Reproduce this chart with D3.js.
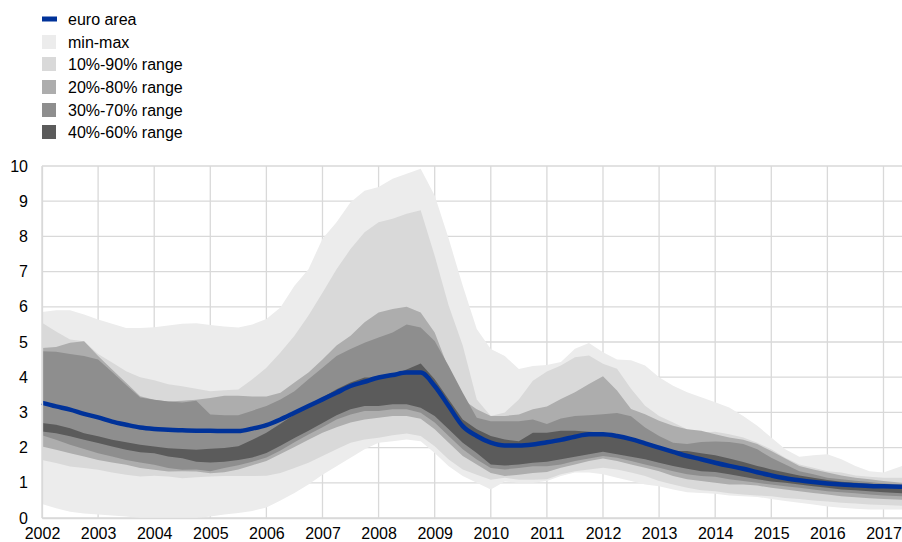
<!DOCTYPE html>
<html>
<head>
<meta charset="utf-8">
<script src="https://cdn.jsdelivr.net/npm/d3@7"></script>
<style>
body { margin: 0; background: #fff; }
svg { display: block; font-family: "Liberation Sans", Arial, sans-serif; }
</style>
</head>
<body>
<script>
// quarterly observations, last one is April 2017
var dates = [2002, 2002.25, 2002.5, 2002.75, 2003, 2003.25, 2003.5, 2003.75,
	2004, 2004.25, 2004.5, 2004.75, 2005, 2005.25, 2005.5, 2005.75,
	2006, 2006.25, 2006.5, 2006.75, 2007, 2007.25, 2007.5, 2007.75,
	2008, 2008.25, 2008.5, 2008.75, 2009, 2009.25, 2009.5, 2009.75,
	2010, 2010.25, 2010.5, 2010.75, 2011, 2011.25, 2011.5, 2011.75,
	2012, 2012.25, 2012.5, 2012.75, 2013, 2013.25, 2013.5, 2013.75,
	2014, 2014.25, 2014.5, 2014.75, 2015, 2015.25, 2015.5, 2015.75,
	2016, 2016.25, 2016.5, 2016.75, 2017, 2017.33];

var euro_area = [3.27, 3.17, 3.08, 2.96, 2.86, 2.74, 2.65, 2.57,
	2.53, 2.51, 2.49, 2.48, 2.48, 2.47, 2.47, 2.54,
	2.64, 2.8, 2.99, 3.18, 3.37, 3.56, 3.75, 3.87,
	3.99, 4.06, 4.13, 4.13, 3.75, 3.18, 2.61, 2.33,
	2.14, 2.06, 2.06, 2.09, 2.15, 2.22, 2.31, 2.38,
	2.38, 2.33, 2.24, 2.12, 2.0, 1.88, 1.76, 1.67,
	1.57, 1.48, 1.4, 1.3, 1.21, 1.13, 1.07, 1.02,
	0.98, 0.95, 0.93, 0.91, 0.9, 0.89];

var q_max = [5.85, 5.9, 5.9, 5.78, 5.64, 5.52, 5.4, 5.4,
	5.42, 5.47, 5.52, 5.53, 5.48, 5.44, 5.41, 5.5,
	5.65, 5.98, 6.6, 7.07, 7.93, 8.4, 8.97, 9.3,
	9.4, 9.64, 9.78, 9.92, 9.16, 7.93, 6.6, 5.37,
	4.8, 4.6, 4.23, 4.32, 4.35, 4.43, 4.81, 4.97,
	4.71, 4.5, 4.48, 4.33, 4.0, 3.76, 3.57, 3.43,
	3.29, 3.14, 2.9, 2.62, 2.29, 1.95, 1.74, 1.78,
	1.81, 1.67, 1.48, 1.33, 1.29, 1.48];

var q_90 = [5.55, 5.3, 5.07, 5.02, 4.66, 4.42, 4.17, 4.0,
	3.91, 3.8, 3.74, 3.67, 3.6, 3.63, 3.65, 3.94,
	4.27, 4.7, 5.18, 5.75, 6.4, 7.07, 7.64, 8.12,
	8.4, 8.5, 8.64, 8.74, 7.45, 6.03, 4.9, 3.37,
	2.9, 3.0, 3.37, 3.9, 4.16, 4.33, 4.57, 4.62,
	4.38, 4.24, 3.67, 3.19, 2.9, 2.71, 2.52, 2.43,
	2.45, 2.38, 2.29, 2.14, 1.95, 1.71, 1.52, 1.43,
	1.33, 1.29, 1.21, 1.17, 1.14, 1.14];

var q_80 = [4.83, 4.86, 4.98, 5.02, 4.6, 4.22, 3.84, 3.46,
	3.36, 3.31, 3.33, 3.36, 3.41, 3.47, 3.47, 3.45,
	3.45, 3.56, 3.85, 4.13, 4.5, 4.9, 5.18, 5.56,
	5.84, 5.94, 6.0, 5.84, 5.27, 4.23, 3.37, 3.09,
	2.9, 2.9, 2.94, 3.09, 3.17, 3.38, 3.57, 3.81,
	4.03, 3.62, 3.1, 2.95, 2.76, 2.62, 2.52, 2.48,
	2.38, 2.29, 2.22, 2.1, 1.9, 1.69, 1.48, 1.38,
	1.29, 1.21, 1.14, 1.1, 1.05, 1.0];

var q_70 = [4.74, 4.72, 4.66, 4.6, 4.5, 4.15, 3.78, 3.42,
	3.36, 3.31, 3.28, 3.33, 2.94, 2.92, 2.92, 3.05,
	3.18, 3.37, 3.6, 3.94, 4.27, 4.6, 4.8, 4.98,
	5.13, 5.27, 5.5, 5.41, 5.03, 4.32, 3.56, 2.85,
	2.75, 2.75, 2.75, 2.8, 2.67, 2.83, 2.9, 2.92,
	2.95, 2.98, 2.89, 2.57, 2.33, 2.14, 2.1, 2.16,
	2.17, 2.16, 2.1, 1.95, 1.71, 1.52, 1.33, 1.24,
	1.14, 1.1, 1.06, 1.02, 0.98, 0.95];

var q_60 = [2.7, 2.65, 2.55, 2.41, 2.32, 2.22, 2.15, 2.08,
	2.03, 1.98, 1.96, 1.94, 1.97, 1.99, 2.04, 2.22,
	2.42, 2.68, 2.94, 3.2, 3.42, 3.66, 3.85, 3.99,
	3.99, 4.08, 4.22, 4.39, 3.94, 3.37, 2.8, 2.52,
	2.33, 2.23, 2.18, 2.42, 2.42, 2.48, 2.48, 2.45,
	2.43, 2.33, 2.24, 2.12, 2.0, 1.9, 1.9, 1.84,
	1.78, 1.69, 1.59, 1.48, 1.38, 1.29, 1.21, 1.14,
	1.08, 1.03, 1.0, 0.97, 0.95, 0.92];

var q_40 = [2.46, 2.41, 2.32, 2.22, 2.13, 2.03, 1.94, 1.87,
	1.84, 1.75, 1.7, 1.6, 1.58, 1.6, 1.65, 1.72,
	1.85, 2.05, 2.27, 2.48, 2.7, 2.92, 3.09, 3.18,
	3.18, 3.23, 3.23, 3.13, 2.9, 2.52, 2.14, 1.85,
	1.52, 1.49, 1.52, 1.57, 1.6, 1.67, 1.74, 1.81,
	1.88, 1.81, 1.74, 1.67, 1.57, 1.48, 1.4, 1.33,
	1.31, 1.24, 1.17, 1.1, 1.04, 1.0, 0.95, 0.9,
	0.86, 0.81, 0.79, 0.76, 0.73, 0.7];

var q_30 = [2.35, 2.22, 2.08, 1.96, 1.84, 1.75, 1.65, 1.58,
	1.51, 1.42, 1.37, 1.38, 1.33, 1.42, 1.5, 1.6,
	1.72, 1.92, 2.15, 2.37, 2.58, 2.8, 2.94, 3.04,
	3.04, 3.09, 3.09, 2.99, 2.71, 2.33, 1.95, 1.66,
	1.42, 1.38, 1.42, 1.47, 1.47, 1.52, 1.62, 1.69,
	1.76, 1.71, 1.62, 1.52, 1.43, 1.33, 1.24, 1.19,
	1.17, 1.1, 1.05, 1.0, 0.95, 0.9, 0.86, 0.81,
	0.76, 0.73, 0.7, 0.67, 0.64, 0.62];

var q_20 = [2.03, 1.94, 1.84, 1.75, 1.65, 1.58, 1.51, 1.42,
	1.37, 1.32, 1.33, 1.32, 1.27, 1.3, 1.38, 1.5,
	1.62, 1.82, 2.02, 2.22, 2.42, 2.58, 2.71, 2.8,
	2.85, 2.9, 2.9, 2.82, 2.52, 2.14, 1.76, 1.52,
	1.28, 1.19, 1.23, 1.28, 1.31, 1.43, 1.52, 1.62,
	1.69, 1.62, 1.52, 1.43, 1.33, 1.19, 1.1, 1.05,
	1.0, 0.95, 0.95, 0.92, 0.86, 0.81, 0.76, 0.71,
	0.67, 0.62, 0.59, 0.56, 0.54, 0.52];

var q_10 = [1.65, 1.56, 1.46, 1.42, 1.37, 1.29, 1.23, 1.18,
	1.2, 1.18, 1.13, 1.16, 1.18, 1.19, 1.19, 1.19,
	1.2, 1.28, 1.42, 1.57, 1.76, 1.95, 2.14, 2.23,
	2.28, 2.35, 2.4, 2.33, 2.04, 1.66, 1.38, 1.23,
	1.09, 1.14, 1.09, 1.09, 1.1, 1.24, 1.33, 1.38,
	1.43, 1.38, 1.29, 1.19, 1.05, 0.95, 0.86, 0.79,
	0.76, 0.7, 0.67, 0.64, 0.62, 0.57, 0.54, 0.5,
	0.47, 0.43, 0.41, 0.38, 0.37, 0.35];

var q_min = [0.4, 0.28, 0.18, 0.13, 0.1, 0.07, 0.04, 0.0,
	0.0, 0.0, 0.0, 0.0, 0.04, 0.1, 0.14, 0.2,
	0.3, 0.5, 0.71, 0.95, 1.23, 1.47, 1.71, 1.95,
	2.14, 2.18, 2.23, 2.18, 1.85, 1.47, 1.19, 1.0,
	0.81, 1.04, 1.0, 1.0, 1.05, 1.19, 1.29, 1.29,
	1.24, 1.14, 1.05, 0.95, 0.9, 0.81, 0.73, 0.71,
	0.69, 0.64, 0.62, 0.6, 0.54, 0.48, 0.43, 0.38,
	0.33, 0.29, 0.26, 0.24, 0.24, 0.24];

var year_ticks = [2002, 2003, 2004, 2005, 2006, 2007, 2008, 2009, 2010, 2011, 2012, 2013, 2014, 2015, 2016, 2017];
var value_ticks = [0, 1, 2, 3, 4, 5, 6, 7, 8, 9, 10];

var band_names = ['min-max', '10%-90% range', '20%-80% range', '30%-70% range', '40%-60% range'];
var band_colors = ['#ececec', '#d9d9d9', '#adadad', '#8e8e8e', '#5b5b5b'];
var line_color = '#003299';
var grid_color = '#d9d9d9';

var width = 902, height = 542;
var left = 42, right = 902, top_y = 166, bottom_y = 518;
var font_size = "16px";

function draw_chart() {
	var svg = d3.select("body").append("svg")
		.attr("width", width)
		.attr("height", height);

	var x = d3.scaleLinear().domain([2002, 2017.33]).range([left, right]);
	var y = d3.scaleLinear().domain([0, 10]).range([bottom_y, top_y]);

	// grid
	svg.selectAll(".hgrid")
		.data(value_ticks)
		.enter()
		.append("line")
		.attr("class", "hgrid")
		.attr("x1", left)
		.attr("x2", right)
		.attr("y1", function(d) { return y(d) })
		.attr("y2", function(d) { return y(d) })
		.style("stroke", grid_color)
		.style("stroke-width", 1.3);

	svg.selectAll(".vgrid")
		.data(year_ticks)
		.enter()
		.append("line")
		.attr("class", "vgrid")
		.attr("x1", function(d) { return x(d) })
		.attr("x2", function(d) { return x(d) })
		.attr("y1", top_y)
		.attr("y2", bottom_y)
		.style("stroke", grid_color)
		.style("stroke-width", 1.3);

	// bands, outer first
	var bands = [[q_min, q_max], [q_10, q_90], [q_20, q_80], [q_30, q_70], [q_40, q_60]];
	bands.forEach(function(b, k) {
		var area = d3.area()
			.x(function(d, i) { return x(dates[i]) })
			.y0(function(d, i) { return y(b[0][i]) })
			.y1(function(d, i) { return y(b[1][i]) });
		svg.append("path")
			.datum(dates)
			.attr("d", area)
			.style("fill", band_colors[k]);
	});

	var line = d3.line()
		.curve(d3.curveMonotoneX)
		.x(function(d, i) { return x(dates[i]) })
		.y(function(d) { return y(d) });
	svg.append("path")
		.datum(euro_area)
		.attr("d", line)
		.style("fill", "none")
		.style("stroke", line_color)
		.style("stroke-width", 4.5);

	// axes
	var yAxis = d3.axisLeft(y).tickValues(value_ticks).tickSize(0).tickPadding(14);
	svg.append("g")
		.attr("transform", "translate(" + left + ",0)")
		.call(yAxis)
		.call(function(g) {
			g.select(".domain").style("stroke", grid_color).style("stroke-width", 1.3);
			g.selectAll("text").style("font-size", font_size).style("fill", "#000");
		});

	// labels sit low, as in the original, but kept inside the frame
	var xAxis = d3.axisBottom(x).tickValues(year_ticks).tickFormat(d3.format("d")).tickSize(0).tickPadding(10);
	svg.append("g")
		.attr("transform", "translate(0," + bottom_y + ")")
		.call(xAxis)
		.call(function(g) {
			g.select(".domain").style("stroke", grid_color).style("stroke-width", 1.3);
			g.selectAll("text").style("font-size", font_size).style("fill", "#000");
		});

	draw_legend(svg);
}

function draw_legend(svg) {
	var row_y = [19, 42, 64, 87, 110, 132];

	svg.append("rect")
		.attr("x", 42)
		.attr("y", row_y[0] - 2.5)
		.attr("width", 15)
		.attr("height", 5)
		.style("fill", line_color);

	svg.selectAll(".legend_box")
		.data(band_names)
		.enter()
		.append("rect")
		.attr("class", "legend_box")
		.attr("x", 42)
		.attr("y", function(d, i) { return row_y[i + 1] - 7 })
		.attr("width", 14)
		.attr("height", 14)
		.style("fill", function(d, i) { return band_colors[i] });

	svg.selectAll(".legend_text")
		.data(['euro area'].concat(band_names))
		.enter()
		.append("text")
		.attr("class", "legend_text")
		.attr("x", 68)
		.attr("y", function(d, i) { return row_y[i] })
		.attr("dy", "0.35em")
		.style("font-size", font_size)
		.text(function(d) { return d });
}

draw_chart();
</script>
</body>
</html>
